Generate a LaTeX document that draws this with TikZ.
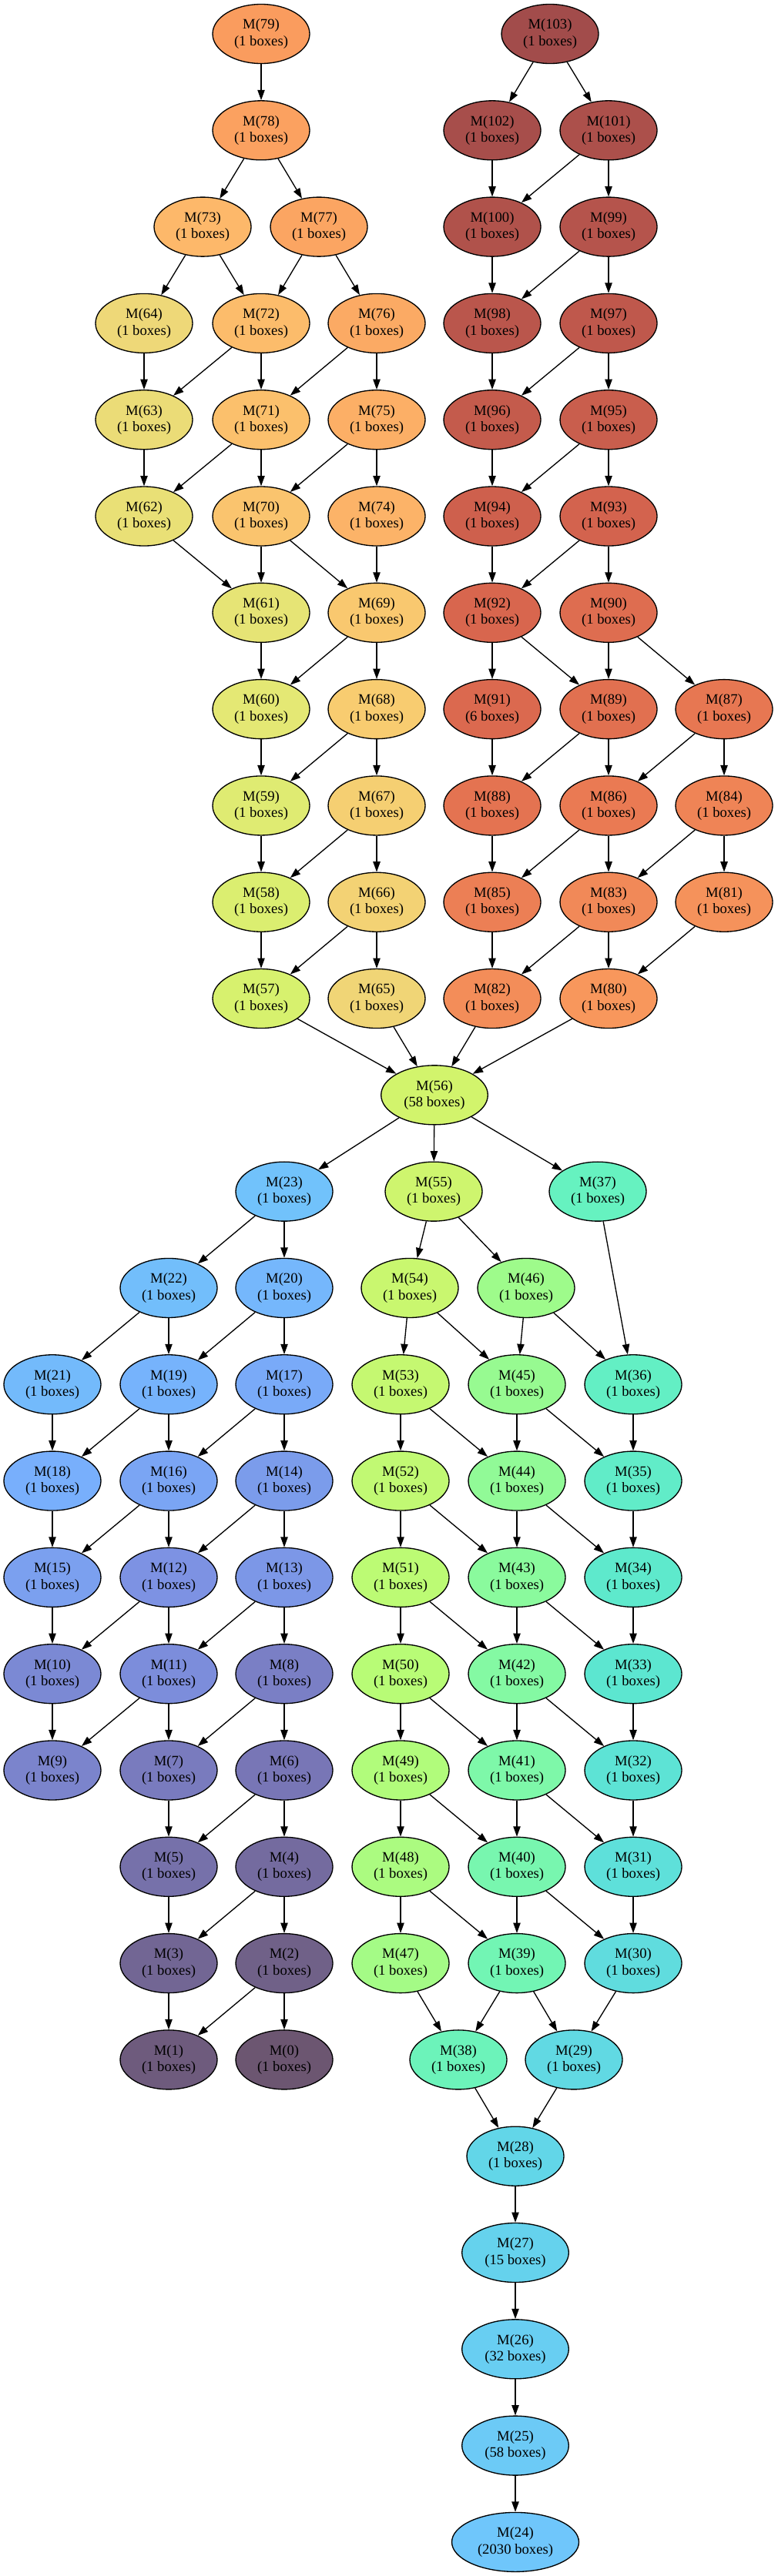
\documentclass[tikz,border=0pt]{standalone}
\usepackage{fontspec}
\setmainfont{Liberation Serif}
\usetikzlibrary{shapes.geometric}
\usetikzlibrary{arrows.meta}

\definecolor{k0}{HTML}{6C5671}  \definecolor{k6}{HTML}{7876B6}
\definecolor{k12}{HTML}{7D92E3} \definecolor{k18}{HTML}{78AFFC}
\definecolor{k24}{HTML}{6FC6FB} \definecolor{k28}{HTML}{62D6E8}
\definecolor{k33}{HTML}{5CE6D0} \definecolor{k37}{HTML}{66F2C0}
\definecolor{k42}{HTML}{84F9A3} \definecolor{k46}{HTML}{9EFB8B}
\definecolor{k50}{HTML}{B8FC76} \definecolor{k56}{HTML}{D2F46C}
\definecolor{k60}{HTML}{E4E874} \definecolor{k64}{HTML}{EED878}
\definecolor{k68}{HTML}{F8CC70} \definecolor{k73}{HTML}{FDB86A}
\definecolor{k79}{HTML}{FA9C5E} \definecolor{k86}{HTML}{EA7A53}
\definecolor{k92}{HTML}{D8664E} \definecolor{k97}{HTML}{BF584C}
\definecolor{k103}{HTML}{A24C4B}

\tikzset{
  mnode/.style={ellipse, draw=black, line width=1pt, fill=#1, align=center,
    font=\fontsize{14}{16}\selectfont, inner xsep=7pt, inner ysep=1pt,
    minimum width=94.5pt, minimum height=57.75pt},
  mlink/.style={-{Triangle[length=10pt,width=7pt]}, line width=1pt}
}

\begin{document}
\begin{tikzpicture}[x=0.75pt, y=-93.975pt]
\useasboundingbox (0,-0.3512) rectangle (1009,26.352);

% upper left chain
\node[mnode=k79] (m79) at (339,0) {M(79)\\(1 boxes)};
\node[mnode=k79!83!k73] (m78) at (339,1) {M(78)\\(1 boxes)};
\node[mnode=k73] (m73) at (263,2) {M(73)\\(1 boxes)};
\node[mnode=k79!67!k73] (m77) at (414,2) {M(77)\\(1 boxes)};
\node[mnode=k64] (m64) at (187,3) {M(64)\\(1 boxes)};
\node[mnode=k73!80!k68] (m72) at (339,3) {M(72)\\(1 boxes)};
\node[mnode=k79!50!k73] (m76) at (489,3) {M(76)\\(1 boxes)};
\node[mnode=k64!75!k60] (m63) at (187,4) {M(63)\\(1 boxes)};
\node[mnode=k73!60!k68] (m71) at (339,4) {M(71)\\(1 boxes)};
\node[mnode=k79!33!k73] (m75) at (489,4) {M(75)\\(1 boxes)};
\node[mnode=k64!50!k60] (m62) at (187,5) {M(62)\\(1 boxes)};
\node[mnode=k73!40!k68] (m70) at (339,5) {M(70)\\(1 boxes)};
\node[mnode=k79!17!k73] (m74) at (489,5) {M(74)\\(1 boxes)};
\node[mnode=k64!25!k60] (m61) at (339,6) {M(61)\\(1 boxes)};
\node[mnode=k73!20!k68] (m69) at (489,6) {M(69)\\(1 boxes)};
\node[mnode=k60] (m60) at (339,7) {M(60)\\(1 boxes)};
\node[mnode=k68] (m68) at (489,7) {M(68)\\(1 boxes)};
\node[mnode=k60!75!k56] (m59) at (339,8) {M(59)\\(1 boxes)};
\node[mnode=k68!75!k64] (m67) at (489,8) {M(67)\\(1 boxes)};
\node[mnode=k60!50!k56] (m58) at (339,9) {M(58)\\(1 boxes)};
\node[mnode=k68!50!k64] (m66) at (489,9) {M(66)\\(1 boxes)};
\node[mnode=k60!25!k56] (m57) at (339,10) {M(57)\\(1 boxes)};
\node[mnode=k68!25!k64] (m65) at (489,10) {M(65)\\(1 boxes)};

% upper right chain
\node[mnode=k103] (m103) at (714,0) {M(103)\\(1 boxes)};
\node[mnode=k103!83!k97] (m102) at (639,1) {M(102)\\(1 boxes)};
\node[mnode=k103!67!k97] (m101) at (790,1) {M(101)\\(1 boxes)};
\node[mnode=k103!50!k97] (m100) at (639,2) {M(100)\\(1 boxes)};
\node[mnode=k103!33!k97] (m99) at (790,2) {M(99)\\(1 boxes)};
\node[mnode=k103!17!k97] (m98) at (639,3) {M(98)\\(1 boxes)};
\node[mnode=k97] (m97) at (790,3) {M(97)\\(1 boxes)};
\node[mnode=k97!80!k92] (m96) at (639,4) {M(96)\\(1 boxes)};
\node[mnode=k97!60!k92] (m95) at (790,4) {M(95)\\(1 boxes)};
\node[mnode=k97!40!k92] (m94) at (639,5) {M(94)\\(1 boxes)};
\node[mnode=k97!20!k92] (m93) at (790,5) {M(93)\\(1 boxes)};
\node[mnode=k92] (m92) at (639,6) {M(92)\\(1 boxes)};
\node[mnode=k92!67!k86] (m90) at (790,6) {M(90)\\(1 boxes)};
\node[mnode=k92!83!k86] (m91) at (639,7) {M(91)\\(6 boxes)};
\node[mnode=k92!50!k86] (m89) at (790,7) {M(89)\\(1 boxes)};
\node[mnode=k92!17!k86] (m87) at (940,7) {M(87)\\(1 boxes)};
\node[mnode=k92!33!k86] (m88) at (639,8) {M(88)\\(1 boxes)};
\node[mnode=k86] (m86) at (790,8) {M(86)\\(1 boxes)};
\node[mnode=k86!71!k79] (m84) at (940,8) {M(84)\\(1 boxes)};
\node[mnode=k86!86!k79] (m85) at (639,9) {M(85)\\(1 boxes)};
\node[mnode=k86!57!k79] (m83) at (790,9) {M(83)\\(1 boxes)};
\node[mnode=k86!29!k79] (m81) at (940,9) {M(81)\\(1 boxes)};
\node[mnode=k86!43!k79] (m82) at (639,10) {M(82)\\(1 boxes)};
\node[mnode=k86!14!k79] (m80) at (790,10) {M(80)\\(1 boxes)};

\node[mnode=k56] (m56) at (564,11) {M(56)\\(58 boxes)};

% lower left chain
\node[mnode=k24!83!k18] (m23) at (369,12) {M(23)\\(1 boxes)};
\node[mnode=k24!67!k18] (m22) at (219,13) {M(22)\\(1 boxes)};
\node[mnode=k24!33!k18] (m20) at (369,13) {M(20)\\(1 boxes)};
\node[mnode=k24!50!k18] (m21) at (68,14) {M(21)\\(1 boxes)};
\node[mnode=k24!17!k18] (m19) at (219,14) {M(19)\\(1 boxes)};
\node[mnode=k18!83!k12] (m17) at (369,14) {M(17)\\(1 boxes)};
\node[mnode=k18] (m18) at (68,15) {M(18)\\(1 boxes)};
\node[mnode=k18!67!k12] (m16) at (219,15) {M(16)\\(1 boxes)};
\node[mnode=k18!33!k12] (m14) at (369,15) {M(14)\\(1 boxes)};
\node[mnode=k18!50!k12] (m15) at (68,16) {M(15)\\(1 boxes)};
\node[mnode=k12] (m12) at (219,16) {M(12)\\(1 boxes)};
\node[mnode=k18!17!k12] (m13) at (369,16) {M(13)\\(1 boxes)};
\node[mnode=k12!67!k6] (m10) at (68,17) {M(10)\\(1 boxes)};
\node[mnode=k12!83!k6] (m11) at (219,17) {M(11)\\(1 boxes)};
\node[mnode=k12!33!k6] (m8) at (369,17) {M(8)\\(1 boxes)};
\node[mnode=k12!50!k6] (m9) at (68,18) {M(9)\\(1 boxes)};
\node[mnode=k12!17!k6] (m7) at (219,18) {M(7)\\(1 boxes)};
\node[mnode=k6] (m6) at (369,18) {M(6)\\(1 boxes)};
\node[mnode=k6!83!k0] (m5) at (219,19) {M(5)\\(1 boxes)};
\node[mnode=k6!67!k0] (m4) at (369,19) {M(4)\\(1 boxes)};
\node[mnode=k6!50!k0] (m3) at (219,20) {M(3)\\(1 boxes)};
\node[mnode=k6!33!k0] (m2) at (369,20) {M(2)\\(1 boxes)};
\node[mnode=k6!17!k0] (m1) at (219,21) {M(1)\\(1 boxes)};
\node[mnode=k0] (m0) at (369,21) {M(0)\\(1 boxes)};

% lower right chain
\node[mnode=k56!83!k50] (m55) at (563,12) {M(55)\\(1 boxes)};
\node[mnode=k37] (m37) at (776,12) {M(37)\\(1 boxes)};
\node[mnode=k56!67!k50] (m54) at (532,13) {M(54)\\(1 boxes)};
\node[mnode=k46] (m46) at (683,13) {M(46)\\(1 boxes)};
\node[mnode=k56!50!k50] (m53) at (520,14) {M(53)\\(1 boxes)};
\node[mnode=k46!75!k42] (m45) at (671,14) {M(45)\\(1 boxes)};
\node[mnode=k37!75!k33] (m36) at (822,14) {M(36)\\(1 boxes)};
\node[mnode=k56!33!k50] (m52) at (520,15) {M(52)\\(1 boxes)};
\node[mnode=k46!50!k42] (m44) at (671,15) {M(44)\\(1 boxes)};
\node[mnode=k37!50!k33] (m35) at (822,15) {M(35)\\(1 boxes)};
\node[mnode=k56!17!k50] (m51) at (520,16) {M(51)\\(1 boxes)};
\node[mnode=k46!25!k42] (m43) at (671,16) {M(43)\\(1 boxes)};
\node[mnode=k37!25!k33] (m34) at (822,16) {M(34)\\(1 boxes)};
\node[mnode=k50] (m50) at (520,17) {M(50)\\(1 boxes)};
\node[mnode=k42] (m42) at (671,17) {M(42)\\(1 boxes)};
\node[mnode=k33] (m33) at (822,17) {M(33)\\(1 boxes)};
\node[mnode=k50!75!k46] (m49) at (520,18) {M(49)\\(1 boxes)};
\node[mnode=k42!80!k37] (m41) at (671,18) {M(41)\\(1 boxes)};
\node[mnode=k33!80!k28] (m32) at (822,18) {M(32)\\(1 boxes)};
\node[mnode=k50!50!k46] (m48) at (520,19) {M(48)\\(1 boxes)};
\node[mnode=k42!60!k37] (m40) at (671,19) {M(40)\\(1 boxes)};
\node[mnode=k33!60!k28] (m31) at (822,19) {M(31)\\(1 boxes)};
\node[mnode=k50!25!k46] (m47) at (520,20) {M(47)\\(1 boxes)};
\node[mnode=k42!40!k37] (m39) at (671,20) {M(39)\\(1 boxes)};
\node[mnode=k33!40!k28] (m30) at (822,20) {M(30)\\(1 boxes)};
\node[mnode=k42!20!k37] (m38) at (595,21) {M(38)\\(1 boxes)};
\node[mnode=k33!20!k28] (m29) at (745,21) {M(29)\\(1 boxes)};
\node[mnode=k28] (m28) at (669,22) {M(28)\\(1 boxes)};
\node[mnode=k28!75!k24] (m27) at (669,23) {M(27)\\(15 boxes)};
\node[mnode=k28!50!k24] (m26) at (669,24) {M(26)\\(32 boxes)};
\node[mnode=k28!25!k24] (m25) at (669,25) {M(25)\\(58 boxes)};
\node[mnode=k24] (m24) at (669,26) {M(24)\\(2030 boxes)};

% edges
\draw[mlink] (m79) -- (m78);
\draw[mlink] (m78) -- (m73); \draw[mlink] (m78) -- (m77);
\draw[mlink] (m73) -- (m64); \draw[mlink] (m73) -- (m72);
\draw[mlink] (m77) -- (m72); \draw[mlink] (m77) -- (m76);
\draw[mlink] (m64) -- (m63); \draw[mlink] (m72) -- (m63); \draw[mlink] (m72) -- (m71);
\draw[mlink] (m76) -- (m71); \draw[mlink] (m76) -- (m75);
\draw[mlink] (m63) -- (m62); \draw[mlink] (m71) -- (m62); \draw[mlink] (m71) -- (m70);
\draw[mlink] (m75) -- (m70); \draw[mlink] (m75) -- (m74);
\draw[mlink] (m62) -- (m61); \draw[mlink] (m70) -- (m61); \draw[mlink] (m70) -- (m69);
\draw[mlink] (m74) -- (m69);
\draw[mlink] (m61) -- (m60); \draw[mlink] (m69) -- (m60); \draw[mlink] (m69) -- (m68);
\draw[mlink] (m60) -- (m59); \draw[mlink] (m68) -- (m59); \draw[mlink] (m68) -- (m67);
\draw[mlink] (m59) -- (m58); \draw[mlink] (m67) -- (m58); \draw[mlink] (m67) -- (m66);
\draw[mlink] (m58) -- (m57); \draw[mlink] (m66) -- (m57); \draw[mlink] (m66) -- (m65);
\draw[mlink] (m57) -- (m56); \draw[mlink] (m65) -- (m56);

\draw[mlink] (m103) -- (m102); \draw[mlink] (m103) -- (m101);
\draw[mlink] (m102) -- (m100); \draw[mlink] (m101) -- (m100); \draw[mlink] (m101) -- (m99);
\draw[mlink] (m100) -- (m98); \draw[mlink] (m99) -- (m98); \draw[mlink] (m99) -- (m97);
\draw[mlink] (m98) -- (m96); \draw[mlink] (m97) -- (m96); \draw[mlink] (m97) -- (m95);
\draw[mlink] (m96) -- (m94); \draw[mlink] (m95) -- (m94); \draw[mlink] (m95) -- (m93);
\draw[mlink] (m94) -- (m92); \draw[mlink] (m93) -- (m92); \draw[mlink] (m93) -- (m90);
\draw[mlink] (m92) -- (m91); \draw[mlink] (m92) -- (m89);
\draw[mlink] (m90) -- (m89); \draw[mlink] (m90) -- (m87);
\draw[mlink] (m91) -- (m88); \draw[mlink] (m89) -- (m88); \draw[mlink] (m89) -- (m86);
\draw[mlink] (m87) -- (m86); \draw[mlink] (m87) -- (m84);
\draw[mlink] (m88) -- (m85); \draw[mlink] (m86) -- (m85); \draw[mlink] (m86) -- (m83);
\draw[mlink] (m84) -- (m83); \draw[mlink] (m84) -- (m81);
\draw[mlink] (m85) -- (m82); \draw[mlink] (m83) -- (m82); \draw[mlink] (m83) -- (m80);
\draw[mlink] (m81) -- (m80);
\draw[mlink] (m82) -- (m56); \draw[mlink] (m80) -- (m56);

\draw[mlink] (m56) -- (m23); \draw[mlink] (m56) -- (m55); \draw[mlink] (m56) -- (m37);
\draw[mlink] (m23) -- (m22); \draw[mlink] (m23) -- (m20);
\draw[mlink] (m22) -- (m21); \draw[mlink] (m22) -- (m19);
\draw[mlink] (m20) -- (m19); \draw[mlink] (m20) -- (m17);
\draw[mlink] (m21) -- (m18); \draw[mlink] (m19) -- (m18); \draw[mlink] (m19) -- (m16);
\draw[mlink] (m17) -- (m16); \draw[mlink] (m17) -- (m14);
\draw[mlink] (m18) -- (m15); \draw[mlink] (m16) -- (m15); \draw[mlink] (m16) -- (m12);
\draw[mlink] (m14) -- (m12); \draw[mlink] (m14) -- (m13);
\draw[mlink] (m15) -- (m10); \draw[mlink] (m12) -- (m10); \draw[mlink] (m12) -- (m11);
\draw[mlink] (m13) -- (m11); \draw[mlink] (m13) -- (m8);
\draw[mlink] (m10) -- (m9); \draw[mlink] (m11) -- (m9); \draw[mlink] (m11) -- (m7);
\draw[mlink] (m8) -- (m7); \draw[mlink] (m8) -- (m6);
\draw[mlink] (m7) -- (m5); \draw[mlink] (m6) -- (m5); \draw[mlink] (m6) -- (m4);
\draw[mlink] (m5) -- (m3); \draw[mlink] (m4) -- (m3); \draw[mlink] (m4) -- (m2);
\draw[mlink] (m3) -- (m1); \draw[mlink] (m2) -- (m1); \draw[mlink] (m2) -- (m0);

\draw[mlink] (m55) -- (m54); \draw[mlink] (m55) -- (m46); \draw[mlink] (m37) -- (m36);
\draw[mlink] (m54) -- (m53); \draw[mlink] (m54) -- (m45);
\draw[mlink] (m46) -- (m45); \draw[mlink] (m46) -- (m36);
\draw[mlink] (m53) -- (m52); \draw[mlink] (m53) -- (m44);
\draw[mlink] (m45) -- (m44); \draw[mlink] (m45) -- (m35); \draw[mlink] (m36) -- (m35);
\draw[mlink] (m52) -- (m51); \draw[mlink] (m52) -- (m43);
\draw[mlink] (m44) -- (m43); \draw[mlink] (m44) -- (m34); \draw[mlink] (m35) -- (m34);
\draw[mlink] (m51) -- (m50); \draw[mlink] (m51) -- (m42);
\draw[mlink] (m43) -- (m42); \draw[mlink] (m43) -- (m33); \draw[mlink] (m34) -- (m33);
\draw[mlink] (m50) -- (m49); \draw[mlink] (m50) -- (m41);
\draw[mlink] (m42) -- (m41); \draw[mlink] (m42) -- (m32); \draw[mlink] (m33) -- (m32);
\draw[mlink] (m49) -- (m48); \draw[mlink] (m49) -- (m40);
\draw[mlink] (m41) -- (m40); \draw[mlink] (m41) -- (m31); \draw[mlink] (m32) -- (m31);
\draw[mlink] (m48) -- (m47); \draw[mlink] (m48) -- (m39);
\draw[mlink] (m40) -- (m39); \draw[mlink] (m40) -- (m30); \draw[mlink] (m31) -- (m30);
\draw[mlink] (m47) -- (m38); \draw[mlink] (m39) -- (m38); \draw[mlink] (m39) -- (m29);
\draw[mlink] (m30) -- (m29);
\draw[mlink] (m38) -- (m28); \draw[mlink] (m29) -- (m28);
\draw[mlink] (m28) -- (m27); \draw[mlink] (m27) -- (m26);
\draw[mlink] (m26) -- (m25); \draw[mlink] (m25) -- (m24);

\end{tikzpicture}
\end{document}
